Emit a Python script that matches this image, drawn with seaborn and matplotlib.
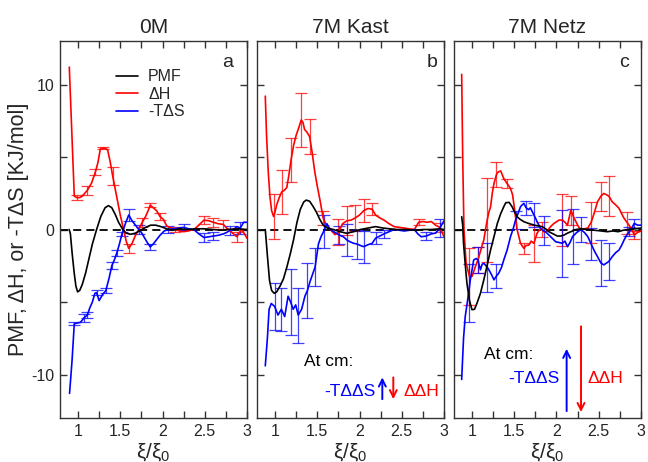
import numpy as np
import pandas as pd
import matplotlib
matplotlib.use("Agg")
import matplotlib.pyplot as plt
from matplotlib.ticker import MultipleLocator, FixedLocator, FixedFormatter
from matplotlib.lines import Line2D
import seaborn as sns

# ---------------- 0M ----------------
a_pmf_x = [0.895, 0.91, 0.93, 0.955, 0.975, 0.995, 1.02, 1.05, 1.09, 1.13, 1.17, 1.22, 1.27, 1.32,
           1.36, 1.40, 1.44, 1.48, 1.53, 1.57, 1.62, 1.68, 1.74, 1.80, 1.86, 1.92, 1.98, 2.05, 2.12,
           2.20, 2.30, 2.40, 2.50, 2.60, 2.70, 2.80, 2.90, 3.00]
a_pmf_y = [0.0, -0.3, -1.6, -3.0, -3.9, -4.3, -4.2, -3.8, -3.0, -2.0, -1.0, 0.0, 0.9, 1.5,
           1.65, 1.5, 1.05, 0.5, 0.0, -0.25, -0.33, -0.25, -0.05, 0.15, 0.3, 0.3, 0.2, 0.05, -0.05,
           0.05, 0.0, 0.05, 0.05, 0.0, -0.05, 0.02, 0.05, 0.0]

a_dh_x = [0.897, 0.93, 0.956, 0.985, 1.02, 1.05, 1.11, 1.16, 1.205, 1.235, 1.264, 1.29, 1.32, 1.35,
          1.38, 1.41, 1.44, 1.47, 1.50, 1.54, 1.57, 1.60, 1.64, 1.68, 1.72, 1.76, 1.80, 1.83, 1.855,
          1.89, 1.93, 1.97, 2.01, 2.05, 2.10, 2.15, 2.20, 2.25, 2.30, 2.37, 2.43, 2.49, 2.55, 2.60,
          2.66, 2.72, 2.76, 2.80, 2.84, 2.88, 2.91, 2.94, 2.97, 3.00]
a_dh_y = [11.2, 6.2, 2.3, 2.2, 2.2, 2.3, 2.7, 3.2, 3.95, 4.6, 5.55, 5.6, 5.6, 5.5,
          4.7, 3.7, 2.8, 1.9, 1.0, 0.0, -0.8, -1.3, -0.95, -0.4, 0.0, 0.5, 0.9, 1.3, 1.68,
          1.5, 1.3, 0.9, 0.7, 0.25, 0.1, 0.0, -0.1, -0.15, -0.1, 0.0, 0.3, 0.65, 0.6, 0.5,
          0.4, 0.35, 0.1, -0.1, -0.3, -0.5, -0.2, 0.0, -0.3, -0.6]
a_dh_bar_x = [0.985, 1.11, 1.205, 1.29, 1.41, 1.60, 1.76, 1.855, 1.97, 2.15, 2.49, 2.60, 2.72, 2.88]
a_dh_bar_e = [0.15, 0.3, 0.2, 0.08, 0.6, 0.3, 0.3, 0.15, 0.25, 0.2, 0.3, 0.3, 0.3, 0.35]

a_ts_x = [0.90, 0.93, 0.956, 0.99, 1.03, 1.07, 1.11, 1.14, 1.17, 1.20, 1.22, 1.25, 1.29, 1.33,
          1.37, 1.40, 1.43, 1.46, 1.49, 1.52, 1.56, 1.60, 1.62, 1.64, 1.68, 1.72, 1.75, 1.78,
          1.82, 1.855, 1.89, 1.93, 1.97, 2.02, 2.07, 2.13, 2.19, 2.25, 2.31, 2.37, 2.43, 2.49,
          2.55, 2.60, 2.66, 2.72, 2.76, 2.80, 2.84, 2.88, 2.92, 2.96, 3.00]
a_ts_y = [-11.3, -9.0, -6.5, -6.45, -6.4, -6.1, -5.9, -5.4, -5.0, -4.4, -4.35, -4.9, -4.5, -4.2,
          -3.3, -2.5, -2.1, -1.6, -1.0, -0.3, 0.4, 1.0, 0.8, 0.6, 0.3, 0.0, -0.2, -0.5,
          -0.9, -1.2, -1.0, -0.7, -0.4, -0.1, 0.0, 0.05, 0.1, 0.15, 0.05, 0.0, -0.3, -0.55,
          -0.5, -0.45, -0.4, -0.3, -0.2, -0.05, 0.0, 0.2, 0.1, 0.5, 0.5]
a_ts_bar_x = [0.956, 1.07, 1.11, 1.22, 1.33, 1.40, 1.46, 1.52, 1.60, 1.72, 1.855, 2.07, 2.25,
              2.49, 2.60, 2.80, 2.92]
a_ts_bar_e = [0.1, 0.25, 0.2, 0.2, 0.15, 0.25, 0.2, 0.15, 0.4, 0.3, 0.2, 0.25, 0.2,
              0.3, 0.3, 0.3, 0.4]

# ---------------- 7M Kast ----------------
b_pmf_x = [0.885, 0.91, 0.935, 0.96, 0.99, 1.02, 1.06, 1.10, 1.14, 1.18, 1.22, 1.26, 1.30, 1.34,
           1.37, 1.41, 1.45, 1.49, 1.53, 1.57, 1.62, 1.69, 1.77, 1.85, 1.93, 2.01, 2.10, 2.19,
           2.28, 2.36, 2.44, 2.55, 2.65, 2.75, 2.85, 2.95, 3.00]
b_pmf_y = [0.0, -1.8, -3.5, -4.2, -4.4, -4.3, -3.9, -3.4, -2.6, -1.7, -0.7, 0.5, 1.4, 1.9,
           2.03, 1.95, 1.6, 1.2, 0.7, 0.3, 0.1, 0.0, -0.15, -0.26, -0.15, 0.0, 0.1, 0.2,
           0.1, 0.05, 0.0, 0.0, -0.05, 0.0, 0.0, 0.05, 0.0]

b_dh_x = [0.885, 0.90, 0.92, 0.94, 0.96, 0.983, 1.00, 1.02, 1.05, 1.08, 1.11, 1.14, 1.16, 1.19,
          1.22, 1.25, 1.28, 1.31, 1.33, 1.35, 1.38, 1.41, 1.44, 1.47, 1.50, 1.53, 1.57, 1.60,
          1.63, 1.67, 1.71, 1.75, 1.80, 1.85, 1.90, 1.95, 2.00, 2.05, 2.10, 2.15, 2.19, 2.24,
          2.29, 2.35, 2.41, 2.47, 2.53, 2.59, 2.65, 2.70, 2.75, 2.80, 2.85, 2.90, 2.95, 3.00]
b_dh_y = [9.2, 6.5, 4.0, 2.3, 1.3, 0.9, 1.2, 1.7, 2.2, 2.6, 2.7, 2.9, 3.6, 4.8,
          5.8, 6.5, 7.0, 7.55, 7.4, 6.9, 6.7, 6.4, 5.3, 4.0, 3.0, 2.1, 0.8, 0.4,
          0.2, -0.1, -0.35, -0.2, 0.4, 0.6, 0.65, 0.8, 1.0, 1.3, 1.45, 1.4, 1.0, 0.8,
          0.65, 0.4, 0.2, 0.15, 0.1, 0.05, 0.0, 0.5, 0.55, 0.5, 0.55, 0.3, 0.15, -0.5]
b_dh_bar_x = [0.983, 1.08, 1.19, 1.31, 1.41, 1.57, 1.75, 1.85, 1.95, 2.05, 2.15, 2.70, 2.95]
b_dh_bar_e = [1.55, 1.5, 1.5, 1.85, 1.2, 0.5, 0.9, 1.0, 0.9, 0.8, 0.4, 0.2, 0.3]

b_ts_x = [0.885, 0.91, 0.93, 0.956, 0.995, 1.036, 1.075, 1.115, 1.155, 1.185, 1.215, 1.245, 1.275,
          1.315, 1.354, 1.384, 1.414, 1.444, 1.474, 1.514, 1.544, 1.574, 1.614, 1.64, 1.67, 1.71,
          1.76, 1.81, 1.85, 1.89, 1.93, 1.97, 2.01, 2.05, 2.10, 2.15, 2.19, 2.24, 2.29, 2.35,
          2.41, 2.47, 2.53, 2.59, 2.65, 2.69, 2.73, 2.79, 2.85, 2.90, 2.95, 3.00]
b_ts_y = [-9.4, -7.5, -5.5, -5.1, -5.3, -5.9, -5.5, -6.0, -4.6, -5.0, -5.5, -5.2, -5.9,
          -5.5, -4.6, -4.2, -3.6, -3.1, -2.6, -1.0, -0.5, -0.15, 0.4, 0.1, -0.05, -0.2,
          -0.38, -0.5, -0.72, -0.85, -0.95, -1.0, -1.1, -1.18, -1.05, -0.95, -0.6, -0.45, -0.3, -0.15,
          0.0, -0.05, -0.1, -0.05, 0.0, -0.3, -0.5, -0.45, -0.3, -0.25, 0.1, 0.6]
b_ts_bar_x = [0.995, 1.075, 1.185, 1.275, 1.384, 1.474, 1.574, 1.76, 1.85, 1.97, 2.05, 2.19,
              2.29, 2.79, 2.95]
b_ts_bar_e = [1.6, 1.5, 2.3, 1.9, 1.9, 1.3, 1.15, 0.6, 1.1, 1.0, 1.1, 0.4,
              0.3, 0.3, 0.6]

# ---------------- 7M Netz ----------------
c_pmf_x = [0.878, 0.89, 0.90, 0.92, 0.94, 0.97, 1.0, 1.03, 1.06, 1.10, 1.14, 1.18, 1.22, 1.26,
           1.30, 1.34, 1.376, 1.40, 1.44, 1.475, 1.50, 1.534, 1.57, 1.614, 1.67, 1.733, 1.78,
           1.83, 1.87, 1.91, 1.96, 2.01, 2.05, 2.09, 2.13, 2.17, 2.23, 2.29, 2.37, 2.45, 2.53,
           2.60, 2.67, 2.73, 2.79, 2.85, 2.92, 3.00]
c_pmf_y = [0.88, 0.3, -0.95, -2.4, -3.7, -4.9, -5.53, -5.5, -5.07, -4.4, -3.47, -2.45, -1.41, -0.5,
           0.42, 1.1, 1.57, 1.85, 1.87, 1.57, 1.25, 0.88, 0.7, 0.54, 0.42, 0.31, 0.25,
           0.2, 0.05, -0.15, -0.3, -0.45, -0.45, -0.38, -0.25, -0.15, 0.0, 0.05, 0.0, -0.05, -0.1,
           -0.15, -0.1, -0.15, -0.05, 0.0, 0.05, 0.1]

c_dh_x = [0.878, 0.89, 0.905, 0.93, 0.97, 1.00, 1.04, 1.07, 1.11, 1.14, 1.16, 1.18, 1.20, 1.22,
          1.24, 1.26, 1.29, 1.31, 1.34, 1.376, 1.416, 1.456, 1.48, 1.50, 1.534, 1.574, 1.614,
          1.64, 1.673, 1.70, 1.733, 1.77, 1.80, 1.83, 1.86, 1.89, 1.93, 1.97, 2.03, 2.07, 2.10,
          2.13, 2.17, 2.20, 2.23, 2.26, 2.29, 2.33, 2.37, 2.41, 2.445, 2.485, 2.525, 2.56, 2.59,
          2.62, 2.66, 2.70, 2.74, 2.77, 2.80, 2.84, 2.87, 2.90, 2.92, 2.96, 3.00]
c_dh_y = [10.7, 5.0, 0.0, -2.3, -3.24, -3.24, -2.56, -2.1, -1.3, -0.72, 0.0, 0.65, 1.2, 1.57,
          2.5, 3.17, 3.8, 3.97, 4.04, 3.52, 3.17, 2.83, 2.4, 1.57, 0.0, -0.95, -1.3,
          -1.1, -1.07, -0.8, -0.95, -0.26, 0.0, 0.0, -0.2, -0.1, 0.2, 0.42, 0.65, 0.65, 0.5,
          0.31, 1.34, 0.9, 0.54, 0.2, 0.0, 0.05, 0.1, 0.5, 1.11, 1.91, 2.3, 2.49, 2.4,
          2.3, 1.91, 1.7, 1.46, 1.1, 0.77, 0.45, 0.2, -0.1, -0.38, -0.2, -0.1]
c_dh_bar_x = [0.97, 1.07, 1.18, 1.29, 1.416, 1.614, 1.733, 1.83, 2.07, 2.17, 2.41, 2.525, 2.62,
              2.84, 2.92]
c_dh_bar_e = [2.0, 0.9, 2.9, 0.85, 0.3, 0.4, 1.26, 0.5, 1.8, 1.0, 1.4, 1.0, 1.4,
              0.75, 0.3]

c_ts_x = [0.878, 0.90, 0.92, 0.94, 0.96, 0.98, 1.00, 1.02, 1.05, 1.07, 1.10, 1.12, 1.14, 1.18,
          1.20, 1.23, 1.26, 1.29, 1.317, 1.35, 1.376, 1.416, 1.456, 1.49, 1.515, 1.545, 1.574,
          1.594, 1.614, 1.64, 1.67, 1.69, 1.71, 1.733, 1.753, 1.77, 1.81, 1.85, 1.87, 1.93, 1.99,
          2.07, 2.10, 2.13, 2.16, 2.19, 2.24, 2.29, 2.33, 2.37, 2.41, 2.45, 2.485, 2.525, 2.56,
          2.62, 2.66, 2.70, 2.74, 2.77, 2.80, 2.83, 2.86, 2.89, 2.92, 2.96, 3.00]
c_ts_y = [-10.34, -7.5, -6.0, -5.2, -4.39, -3.47, -2.8, -2.1, -2.0, -2.1, -2.78, -2.4, -2.33, -2.6,
          -2.78, -3.1, -3.47, -3.2, -3.01, -2.6, -2.1, -1.41, -0.49, 0.1, 0.65, 1.1, 1.57,
          1.7, 1.8, 1.5, 1.37, 1.5, 1.27, 1.0, 0.77, 0.54, 0.1, -0.1, -0.15, -0.49, -0.84,
          -0.95, -0.8, -1.18, -0.9, -0.49, -0.2, 0.0, -0.2, -0.49, -1.0, -1.5, -1.87, -2.3, -2.44,
          -2.2, -1.87, -1.6, -1.41, -1.1, -0.72, -0.4, -0.15, 0.1, 0.42, 0.3, 0.3]
c_ts_bar_x = [0.96, 1.07, 1.18, 1.29, 1.515, 1.64, 1.733, 1.85, 2.07, 2.19, 2.29, 2.41, 2.525,
              2.62, 2.86, 2.92]
c_ts_bar_e = [2.0, 0.9, 1.7, 0.85, 0.6, 0.5, 0.8, 1.0, 2.3, 1.9, 0.85, 1.1, 1.6,
              1.3, 0.3, 0.3]

titles = ["0M", "7M Kast", "7M Netz"]
letters = ["a", "b", "c"]
terms = ["PMF", "ΔH", "-TΔS"]
x_ticks = [1, 1.5, 2, 2.5, 3]
x_tick_labels = ["1", "1.5", "2", "2.5", "3"]
y_ticks = [-10, 0, 10]
y_tick_labels = ["-10", "0", "10"]

sns.set_style("ticks")
plt.rcParams["font.family"] = ["Liberation Sans", "DejaVu Sans"]
plt.rcParams["mathtext.fontset"] = "custom"
plt.rcParams["mathtext.rm"] = "Liberation Sans"
plt.rcParams["mathtext.it"] = "Liberation Sans:italic"

palette = {"PMF": "black", "ΔH": "#ff0000", "-TΔS": "#0000ff"}

panels = [
    {"pmf": (a_pmf_x, a_pmf_y), "dh": (a_dh_x, a_dh_y, a_dh_bar_x, a_dh_bar_e),
     "ts": (a_ts_x, a_ts_y, a_ts_bar_x, a_ts_bar_e), "letter_x": 0.895},
    {"pmf": (b_pmf_x, b_pmf_y), "dh": (b_dh_x, b_dh_y, b_dh_bar_x, b_dh_bar_e),
     "ts": (b_ts_x, b_ts_y, b_ts_bar_x, b_ts_bar_e), "letter_x": 0.936},
    {"pmf": (c_pmf_x, c_pmf_y), "dh": (c_dh_x, c_dh_y, c_dh_bar_x, c_dh_bar_e),
     "ts": (c_ts_x, c_ts_y, c_ts_bar_x, c_ts_bar_e), "letter_x": 0.909},
]

fig = plt.figure(figsize=(6.48, 4.62), dpi=100)
lefts = [0.0926, 0.3966, 0.7006]
axes = []
for i, (p, left) in enumerate(zip(panels, lefts)):
    ax = fig.add_axes([left, 0.0952, 0.2886, 0.816])
    axes.append(ax)
    ax.axhline(0, color="black", lw=1.3, ls=(0, (4.5, 2.8)), zorder=1)

    frames = [
        pd.DataFrame({"xi": p["dh"][0], "value": p["dh"][1], "term": "ΔH"}),
        pd.DataFrame({"xi": p["ts"][0], "value": p["ts"][1], "term": "-TΔS"}),
        pd.DataFrame({"xi": p["pmf"][0], "value": p["pmf"][1], "term": "PMF"}),
    ]
    df = pd.concat(frames, ignore_index=True)
    sns.lineplot(data=df, x="xi", y="value", hue="term", palette=palette,
                 hue_order=["ΔH", "-TΔS", "PMF"], estimator=None, sort=False,
                 lw=1.2, ax=ax, legend=False, zorder=3)

    # error bars at selected samples of the enthalpy and entropy curves
    for key, term in (("dh", "ΔH"), ("ts", "-TΔS")):
        xs, ys, bx, be = (np.asarray(v, dtype=float) for v in p[key])
        idx = [int(np.argmin(np.abs(xs - b))) for b in bx]
        ax.errorbar(xs[idx], ys[idx], yerr=be, fmt="none", ecolor=palette[term],
                    elinewidth=0.9, capsize=4, capthick=0.9, alpha=0.75, zorder=2)

    ax.set_xlim(0.787, 3.0)
    ax.set_ylim(-13, 13)
    ax.xaxis.set_major_locator(FixedLocator(x_ticks))
    ax.xaxis.set_major_formatter(FixedFormatter(x_tick_labels))
    ax.xaxis.set_minor_locator(MultipleLocator(0.25))
    ax.yaxis.set_major_locator(FixedLocator(y_ticks))
    ax.yaxis.set_minor_locator(MultipleLocator(5))
    if i == 0:
        ax.yaxis.set_major_formatter(FixedFormatter(y_tick_labels))
    else:
        ax.set_yticklabels([])
    ax.tick_params(which="both", direction="in", top=True, right=True, length=5,
                   width=1.0, color="#333333", labelsize=11.5, pad=4)
    for s in ax.spines.values():
        s.set_linewidth(1.0)
        s.set_color("#333333")
    ax.set_title(titles[i], fontsize=15, pad=6)
    ax.set_xlabel("ξ/ξ$_\\mathregular{0}$", fontsize=15, labelpad=2)
    ax.set_ylabel("")
    ax.text(p["letter_x"], 0.944, letters[i], transform=ax.transAxes, fontsize=14,
            ha="center", va="center")

axes[0].set_ylabel("PMF, ΔH, or -TΔS [KJ/mol]", fontsize=15.5, labelpad=2)

handles = [Line2D([], [], color=palette[t], lw=1.2) for t in terms]
axes[0].legend(handles, terms, loc="upper left", bbox_to_anchor=(0.30, 0.925),
               frameon=False, fontsize=11.5, handlelength=1.4, handletextpad=0.6,
               labelspacing=0.15, borderaxespad=0, borderpad=0)

# "At cm" arrows showing the sign of the entropic and enthalpic change at contact
def cm_note(ax, at_xy, ts_xy, dh_xy, up, down, fs=12.5):
    ax.text(*at_xy, "At cm:", fontsize=fs, ha="left", va="center", color="black")
    ax.text(*ts_xy, "-TΔΔS", fontsize=fs, ha="right", va="center", color="#0000ff")
    ax.text(*dh_xy, "ΔΔH", fontsize=fs, ha="left", va="center", color="#ff0000")
    ax.annotate("", xy=(up[0], up[2]), xytext=(up[0], up[1]),
                arrowprops=dict(arrowstyle="->,head_length=0.5,head_width=0.25",
                                color="#0000ff", lw=1.4, shrinkA=0, shrinkB=0))
    ax.annotate("", xy=(down[0], down[2]), xytext=(down[0], down[1]),
                arrowprops=dict(arrowstyle="->,head_length=0.5,head_width=0.25",
                                color="#ff0000", lw=1.4, shrinkA=0, shrinkB=0))

cm_note(axes[1], (1.34, -9.1), (2.19, -11.17), (2.52, -11.17),
        (2.27, -11.7, -10.2), (2.40, -10.2, -11.7))
cm_note(axes[2], (1.14, -8.65), (2.03, -10.3), (2.37, -10.3),
        (2.12, -12.52, -8.23), (2.29, -6.68, -12.59))

fig.savefig("out.png", dpi=100)
